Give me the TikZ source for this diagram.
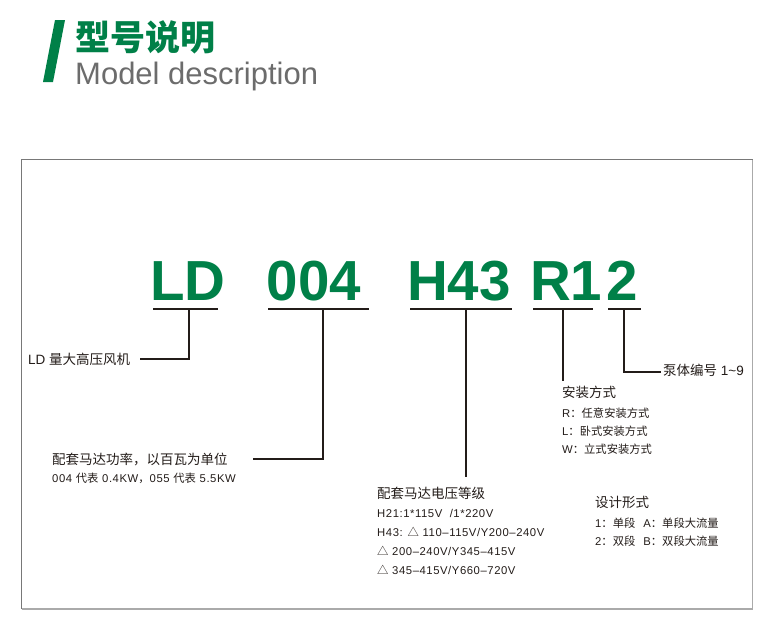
\documentclass[tikz,border=0pt]{standalone}
\usepackage{fontspec}
\setmainfont{Liberation Sans}
\newfontfamily\cjk{Noto Sans CJK SC}
\newfontfamily\latsp{Liberation Sans}[LetterSpace=5]
\newcommand{\zh}[1]{{\cjk #1}}
\definecolor{brandgreen}{RGB}{0,128,72}
\definecolor{titlegray}{RGB}{108,108,108}
\definecolor{inkdark}{RGB}{35,28,25}
\definecolor{frameA}{RGB}{120,120,120}
\definecolor{frameB}{RGB}{170,170,170}
\begin{document}
\begin{tikzpicture}[x=1pt,y=-1pt,
  big/.style={inner sep=0,anchor=base west,text=brandgreen,font=\fontsize{56.5}{60}\selectfont\bfseries},
  head/.style={inner sep=0,anchor=base west,text=inkdark,font=\fontsize{13.5}{15}\selectfont},
  sub/.style={inner sep=0,anchor=base west,text=inkdark,font=\latsp\fontsize{11.3}{13}\selectfont},
  uline/.style={draw=inkdark,line width=1.1pt},
  conn/.style={draw=inkdark,line width=1.1pt}]
\useasboundingbox (0,0) rectangle (774,619);
% title
\fill[brandgreen] (43,82) -- (53,82) -- (65,20) -- (55,20) -- cycle;
\node[inner sep=0,anchor=base west,text=brandgreen,font=\cjk\bfseries\fontsize{35}{38}\selectfont] (zhtitle) at (75,50) {型号说明};
\node[inner sep=0,anchor=base west,text=titlegray,font=\fontsize{31}{34}\selectfont] (entitle) at (75,84) {Model description};
% frame
\draw[frameA,line width=1.3pt] (21.5,609) -- (21.5,159.5) -- (752.5,159.5);
\draw[frameB,line width=1.3pt] (752.5,159.5) -- (752.5,609) -- (21.5,609);
% big code
\node[big] (cLD) at (150,300) {LD};
\node[big] (c004) at (266.5,300) {004};
\node[big] (cH43) at (407,300) {H43};
\node[big] (cR1) at (530,300) {R1};
\node[big] (c2) at (606.5,300) {2};
% underlines
\coordinate (uLDa) at (153,309); \coordinate (uLDb) at (218,309); \coordinate (uLDm) at (189,309);
\coordinate (u004a) at (268,309); \coordinate (u004b) at (369,309); \coordinate (u004m) at (323,309);
\coordinate (uH43a) at (410,309); \coordinate (uH43b) at (512,309); \coordinate (uH43m) at (466,309);
\coordinate (uR1a) at (533,309); \coordinate (uR1b) at (593,309); \coordinate (uR1m) at (563,309);
\coordinate (u2a) at (608,309); \coordinate (u2b) at (641,309); \coordinate (u2m) at (624,309);
\draw[uline] (uLDa) -- (uLDb);
\draw[uline] (u004a) -- (u004b);
\draw[uline] (uH43a) -- (uH43b);
\draw[uline] (uR1a) -- (uR1b);
\draw[uline] (u2a) -- (u2b);
% connector ends
\coordinate (eLD) at (140,359);
\coordinate (e004) at (253,459);
\coordinate (eH43) at (466,477);
\coordinate (eR1) at (563,381);
\coordinate (e2) at (661,372);
\draw[conn] (uLDm) |- (eLD);
\draw[conn] (u004m) |- (e004);
\draw[conn] (uH43m) -- (eH43);
\draw[conn] (uR1m) -- (eR1);
\draw[conn] (u2m) |- (e2);
% labels
\node[head] (tLD) at (28,364) {LD \zh{量大高压风机}};
\node[head] (t004) at (52,464) {\zh{配套马达功率，以百瓦为单位}};
\node[sub] (t004b) at (52,482) {004 \zh{代表} 0.4KW\zh{，}055 \zh{代表} 5.5KW};
\node[head] (tH) at (377,498) {\zh{配套马达电压等级}};
\node[sub] (tH1) at (377,517) {H21:1*115V\ \ /1*220V};
\node[sub] (tH2) at (377,536) {H43: \zh{△} 110–115V/Y200–240V};
\node[sub] (tH3) at (377,555) {\zh{△} 200–240V/Y345–415V};
\node[sub] (tH4) at (377,574) {\zh{△} 345–415V/Y660–720V};
\node[head] (tR) at (562,397) {\zh{安装方式}};
\node[sub] (tR1) at (562,417) {R\zh{：任意安装方式}};
\node[sub] (tR2) at (562,435) {L\zh{：卧式安装方式}};
\node[sub] (tR3) at (562,453) {W\zh{：立式安装方式}};
\node[head] (t2) at (663,375) {\zh{泵体编号} 1\textasciitilde 9};
\node[head] (tD) at (595,507) {\zh{设计形式}};
\node[sub] (tD1) at (595,527) {1\zh{：单段}\hspace{8pt}A\zh{：单段大流量}};
\node[sub] (tD2) at (595,545) {2\zh{：双段}\hspace{8pt}B\zh{：双段大流量}};
\end{tikzpicture}
\end{document}
